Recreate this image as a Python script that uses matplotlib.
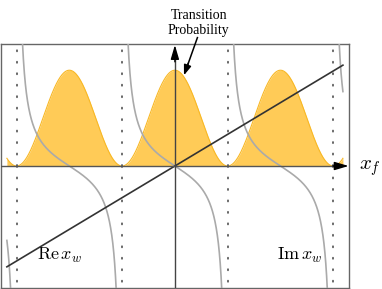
import numpy as np
import matplotlib
matplotlib.use('Agg')
import matplotlib.pyplot as plt

plt.rcParams['mathtext.fontset'] = 'cm'

# curve parameters (axis units, period = pi)
x_range = [-5.0, 5.0]
prob_height = 2.85      # peak of cos^2 transition probability
im_scale = 0.655        # Im x_w = -im_scale * tan(x)
re_slope = 0.6          # Re x_w = re_slope * x
node_lines = [-1.5*np.pi, -0.5*np.pi, 0.5*np.pi, 1.5*np.pi]
xlim = (-5.19, 5.19)
ylim = (-3.63, 3.63)

fig = plt.figure(figsize=(3.82, 2.89), dpi=100)
ax = fig.add_axes([0.5/382, 1.0/289, 348.8/382, 244.0/289])
ax.set_xlim(*xlim)
ax.set_ylim(*ylim)
ax.set_xticks([])
ax.set_yticks([])
for s in ax.spines.values():
    s.set_color('#666666')
    s.set_linewidth(1.0)

x = np.linspace(x_range[0], x_range[1], 2000)

# transition probability
p = prob_height*np.cos(x)**2
ax.fill_between(x, 0, p, color='#FFCB57', lw=0, zorder=1)
ax.plot(x, p, color='#F8B825', lw=0.8, zorder=1.5)

# dotted node lines
for xn in node_lines:
    for y_end in ylim:
        ax.plot([xn, xn], [0, y_end], color='#666666', lw=1.4,
                linestyle=(0, (0.5, 5.4)), dash_capstyle='round', zorder=2)

# Im x_w branches
im = -im_scale*np.tan(x)
im[np.abs(np.cos(x)) < 0.02] = np.nan
ax.plot(x, im, color='#AAAAAA', lw=1.2, zorder=3)

# Re x_w
ax.plot(x_range, [re_slope*x_range[0], re_slope*x_range[1]], color='#333333', lw=1.2, zorder=4)

# axes
ax.plot([xlim[0], 4.9], [0, 0], color='#555555', lw=1.0, zorder=5)
ax.plot([0, 0], [ylim[0], 3.3], color='#444444', lw=1.0, zorder=5)
ax.annotate('', xy=(5.17, 0), xytext=(4.7, 0),
            arrowprops=dict(arrowstyle='-|>,head_length=0.85,head_width=0.25',
                            color='k', lw=1.0, shrinkA=0, shrinkB=0), zorder=6)
ax.annotate('', xy=(0, 3.6), xytext=(0, 3.1),
            arrowprops=dict(arrowstyle='-|>,head_length=0.85,head_width=0.25',
                            color='k', lw=1.0, shrinkA=0, shrinkB=0), zorder=6)

# labels
ax.text(5.48, -0.05, r'$x_f$', fontsize=15, ha='left', va='center', clip_on=False)
ax.text(-4.1, -2.8, r'$\mathrm{Re}\,x_w$', fontsize=13, ha='left', va='baseline')
ax.text(3.05, -2.8, r'$\mathrm{Im}\,x_w$', fontsize=13, ha='left', va='baseline')
ax.text(0.71, 4.25, 'Transition\nProbability', ha='center', va='center',
        fontsize=10, family='Liberation Serif', linespacing=1.25, clip_on=False)
# pointer: shaft drawn unclipped, head inside the box
ax.plot([0.67, 0.35], [3.82, 2.92], color='k', lw=1.1, clip_on=False, zorder=7)
ax.annotate('', xy=(0.27, 2.7), xytext=(0.4, 3.06),
            arrowprops=dict(arrowstyle='-|>,head_length=0.6,head_width=0.22',
                            color='k', lw=1.1, shrinkA=0, shrinkB=0), zorder=7)

fig.savefig('out.png', dpi=100)
